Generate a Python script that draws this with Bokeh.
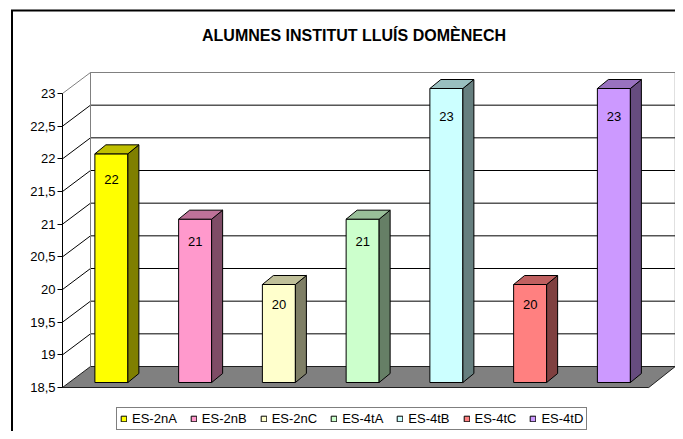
from bokeh.plotting import figure
from bokeh.models import Range1d, FixedTicker, Legend, LegendItem, ColumnDataSource
from bokeh.core.properties import value
from bokeh.embed import file_html
from bokeh.resources import INLINE

# ---------------- data ----------------
TITLE = "ALUMNES INSTITUT LLUÍS DOMÈNECH"
CATEGORIES = ["ES-2nA", "ES-2nB", "ES-2nC", "ES-4tA", "ES-4tB", "ES-4tC", "ES-4tD"]
STUDENTS = [22, 21, 20, 21, 23, 20, 23]
Y_TICKS = [18.5, 19, 19.5, 20, 20.5, 21, 21.5, 22, 22.5, 23]
Y_TICK_LABELS = ["18,5", "19", "19,5", "20", "20,5", "21", "21,5", "22", "22,5", "23"]
FRONT_COLORS = ["#FFFF00", "#FF99CC", "#FFFFCC", "#CCFFCC", "#CCFFFF", "#FF8080", "#CC99FF"]

# ---------------- layout (pixels of the picture) ----------------
W, H = 675, 431
X0, KX = 62.0, 83.75      # x of category origin, px per category slot
Y0, KY = 387.0, 65.333    # y of axis minimum, px per value unit
YMIN, YMAX = Y_TICKS[0], Y_TICKS[-1]
NCAT = len(CATEGORIES)

BACK_DX, BACK_DY = 28, 21          # depth of the 3D box
BAR_FDX, BAR_FDY = 7, 5            # bar front plane offset
BAR_SDX, BAR_SDY = 11, 9           # bar depth
BAR_W = 33
FONT = "Liberation Sans"


def ux(px):
    return (px - X0) / KX


def vy(py):
    return YMIN + (Y0 - py) / KY


def du(d):
    return d / KX


def dv(d):
    return d / KY


def shade(hexcol, f):
    r, g, b = int(hexcol[1:3], 16), int(hexcol[3:5], 16), int(hexcol[5:7], 16)
    return "#%02x%02x%02x" % (int(r * f), int(g * f), int(b * f))


p = figure(width=W, height=H,
           x_range=Range1d(ux(0), ux(W)),
           y_range=Range1d(vy(H), vy(0)),
           output_backend="svg", toolbar_location=None, min_border=0,
           background_fill_color="white", border_fill_color="white")
p.outline_line_color = None
p.grid.visible = False
p.xaxis.visible = False

# y axis through the library
ax = p.yaxis[0]
ax.fixed_location = 0
ax.bounds = (YMIN, YMAX)
ax.ticker = FixedTicker(ticks=Y_TICKS)
ax.major_label_overrides = {t: l for t, l in zip(Y_TICKS, Y_TICK_LABELS)}
ax.major_tick_out = 5
ax.major_tick_in = 0
ax.minor_tick_line_color = None
ax.major_label_standoff = 2
ax.axis_line_color = "black"
ax.major_tick_line_color = "black"
ax.major_label_text_font = FONT
ax.major_label_text_font_size = "13px"
ax.major_label_text_color = "black"

# chart border (left and top edges; the others lie outside the picture)
p.segment(x0=[ux(11.5), ux(10.5)], x1=[ux(11.5), ux(W + 20)],
          y0=[vy(9.5), vy(10)], y1=[vy(H + 20), vy(10)],
          line_color="black", line_width=2)

bu, bv = du(BACK_DX), dv(BACK_DY)
# left wall
p.patch([0, bu, bu, 0], [YMIN, YMIN + bv, YMAX + bv, YMAX], fill_color="white", line_color=None)
# back wall
p.quad(left=[bu], right=[NCAT + bu - du(1.5)], bottom=[YMIN + bv], top=[YMAX + bv],
       fill_color="white", line_color="#808080", line_width=1)
# floor
p.patch([0, NCAT, NCAT + bu - du(1.5), bu], [YMIN, YMIN, YMIN + bv, YMIN + bv],
        fill_color="#808080", line_color="#202020", line_width=1)

# gridlines on back wall
inner = Y_TICKS[1:-1]
p.segment(x0=[bu] * len(inner), x1=[NCAT + bu - du(1.5)] * len(inner),
          y0=[t + bv for t in inner], y1=[t + bv for t in inner],
          line_color="black", line_width=1)
# diagonal gridlines on left wall
diag = Y_TICKS[1:]
p.segment(x0=[0] * len(diag), x1=[bu] * len(diag),
          y0=diag, y1=[t + bv for t in diag],
          line_color=["black"] * (len(diag) - 1) + ["#808080"], line_width=1)
# left back edge
p.segment(x0=[bu], x1=[bu], y0=[YMIN + bv], y1=[YMAX + bv], line_color="#808080")

# bars
fu, fv = du(BAR_FDX), dv(BAR_FDY)
su, sv = du(BAR_SDX), dv(BAR_SDY)
hw = du(BAR_W) / 2
centers = [i + 0.5 + fu for i in range(NCAT)]
lefts = [c - hw for c in centers]
rights = [c + hw for c in centers]
tops = [v + fv for v in STUDENTS]
base = YMIN + fv

src = ColumnDataSource(dict(left=lefts, right=rights, top=tops,
                            bottom=[base] * NCAT, color=FRONT_COLORS, cat=CATEGORIES))
front = p.quad(left="left", right="right", top="top", bottom="bottom", source=src,
               fill_color="color", line_color="black", line_width=1)

side_xs = [[r, r + su, r + su, r] for r in rights]
side_ys = [[base, base + sv, t + sv, t] for t in tops]
p.patches(side_xs, side_ys, fill_color=[shade(c, 0.5) for c in FRONT_COLORS],
          line_color="black", line_width=1)
top_xs = [[l, r, r + su, l + su] for l, r in zip(lefts, rights)]
top_ys = [[t, t, t + sv, t + sv] for t in tops]
p.patches(top_xs, top_ys, fill_color=[shade(c, 0.75) for c in FRONT_COLORS],
          line_color="black", line_width=1)

# value labels
label_y = [t - dv(20 + 2.8 * (v - 20)) for t, v in zip(tops, STUDENTS)]
p.text(x=centers, y=label_y, text=[str(v) for v in STUDENTS],
       text_align="center", text_baseline="middle",
       text_font=value(FONT), text_font_size="13px", text_color="black")

# title
p.text(x=[ux(353.5)], y=[vy(35)], text=[TITLE], text_align="center", text_baseline="middle",
       text_font=value(FONT), text_font_size="16px", text_font_style="bold", text_color="black")

# legend
items = [LegendItem(label=c, renderers=[front], index=i) for i, c in enumerate(CATEGORIES)]
legend = Legend(items=items, orientation="horizontal", location=(116, 1),
                glyph_width=7, glyph_height=7, label_height=7, label_standoff=5, spacing=13,
                padding=3, margin=0, label_text_font=FONT, label_text_font_size="13px",
                label_text_color="black", border_line_color="black", border_line_width=1,
                background_fill_color="white", background_fill_alpha=1)
p.add_layout(legend)

open("out.html", "w").write(file_html(p, INLINE))
